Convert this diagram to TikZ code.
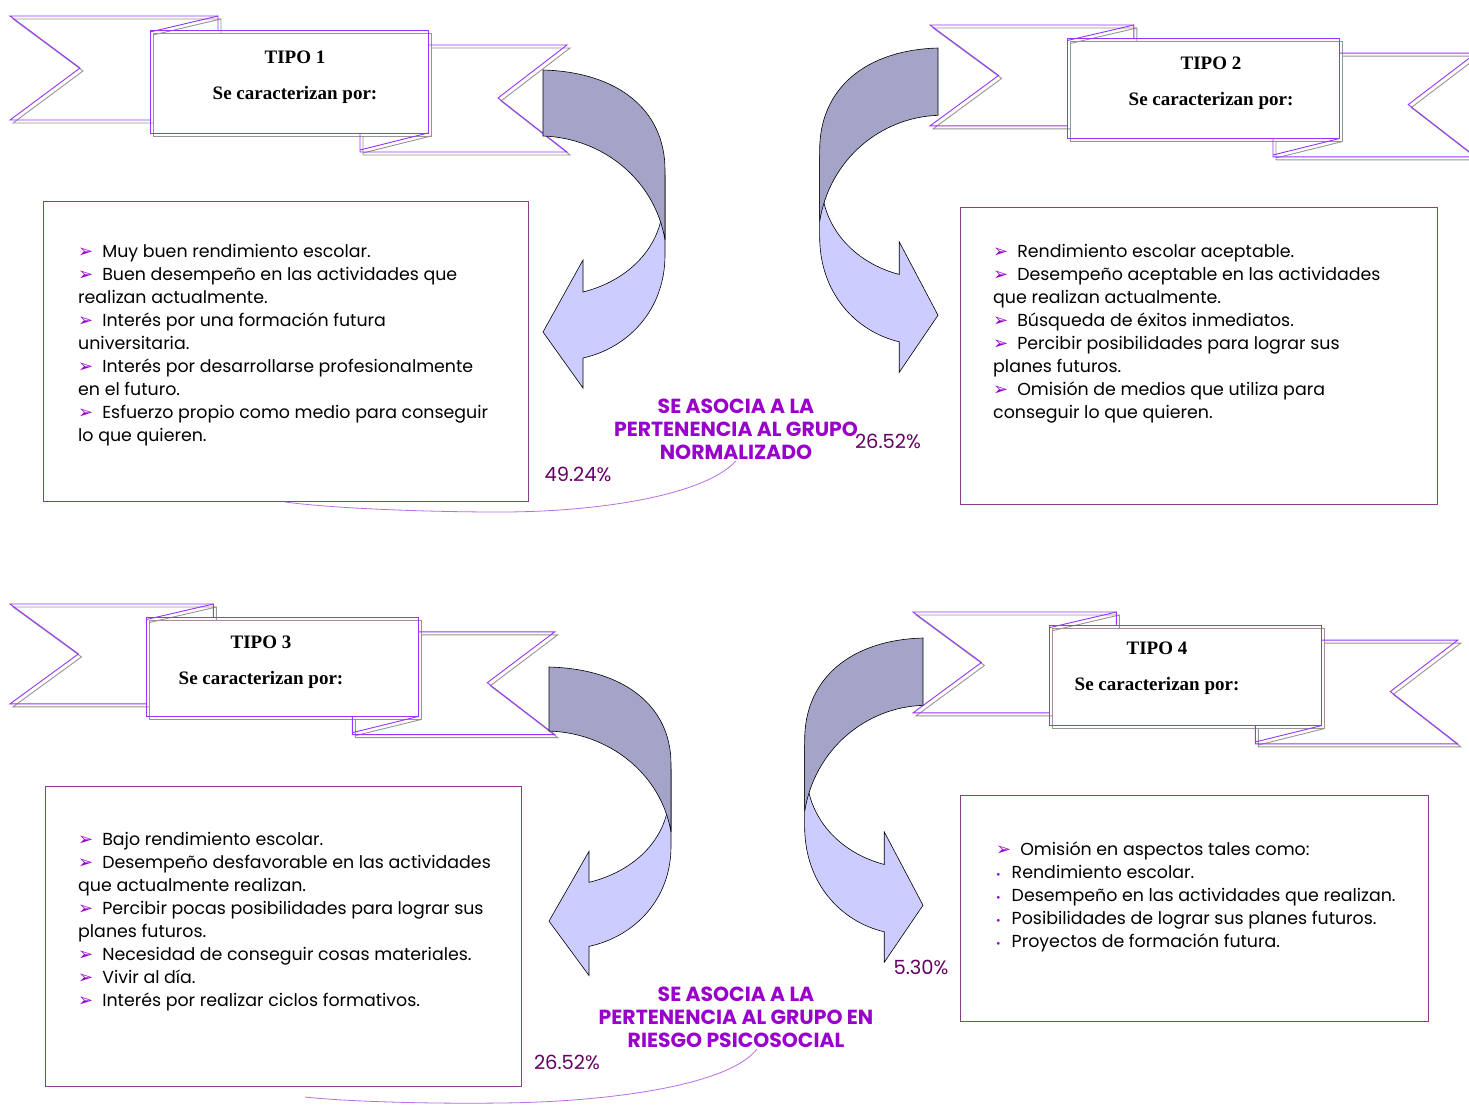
\documentclass[tikz,border=0pt]{standalone}
\usepackage{fontspec}
\setmainfont{Poppins}
\newfontfamily\titulofont{Liberation Serif}
\newfontfamily\simbolofont{DejaVu Sans}
\usetikzlibrary{positioning}
\definecolor{cintamorada}{RGB}{153,51,255}
\definecolor{sombra}{RGB}{150,150,150}
\definecolor{bordecaja}{RGB}{140,60,140}
\definecolor{moradotexto}{RGB}{153,0,204}
\definecolor{pctmorado}{RGB}{102,0,102}
\definecolor{grisazul}{RGB}{164,164,200}
\definecolor{lila}{RGB}{204,204,255}
\definecolor{enlacemorado}{RGB}{185,110,225}
\newcommand{\flecha}{{\color{moradotexto}\simbolofont\fontsize{18}{18}\selectfont ➢}\hspace{9pt}}
\newcommand{\punto}{{\color{moradotexto}\fontsize{11}{11}\selectfont •}\hspace{11pt}}
\newcommand{\cinta}[4]{%
  \foreach \desp/\tono in {3/sombra,0/cintamorada}{%
    \begin{scope}[shift={(#1+\desp,#2+\desp)}, xscale=#3, yscale=#4, color=\tono, line width=0.9pt]
      \draw (140,104) -- (0,104) -- (70,52) -- (0,0) -- (208,0) -- (208,14);
      \draw (140,16) -- (208,0);
      \draw (140,14) rectangle (418,117);
      \draw (418,29) -- (557,29) -- (488,82) -- (557,136) -- (350,136) -- (350,117);
      \draw (350,134) -- (418,117);
    \end{scope}}}
\newcommand{\giro}[4]{%
  \begin{scope}[shift={(#1,#2)}, xscale=#3, yscale=#4]
    \draw[claro] (122,105) -- (122,185) .. controls (122,240) and (85,278) .. (40,288) -- (40,318) -- (0,262) -- (40,190) -- (40,222) .. controls (80,212) and (110,185) .. (118,150) -- cycle;
    \draw[oscuro] (0,0) .. controls (75,2) and (122,40) .. (122,100) -- (122,170) .. controls (112,110) and (60,68) .. (0,66) -- cycle;
  \end{scope}}

\begin{document}
\begin{tikzpicture}[x=1pt, y=-1pt,
    caja/.style={draw=bordecaja, line width=0.8pt, anchor=north west, inner sep=0pt},
    lista/.style={anchor=north west, align=left, inner sep=0pt, font=\fontsize{17.4}{23}\selectfont},
    titulo/.style={align=center, font=\titulofont\bfseries\fontsize{19}{36}\selectfont},
    etiqueta/.style={align=center, text=moradotexto, font=\bfseries\fontsize{20.4}{23}\selectfont},
    pct/.style={text=pctmorado, font=\fontsize{19.5}{20}\selectfont},
    claro/.style={fill=lila, draw=black, line width=0.6pt},
    oscuro/.style={fill=grisazul, draw=black, line width=0.6pt},
    enlace/.style={draw=enlacemorado, line width=0.8pt}]
    \fill[white] (0,0) rectangle (1469,1104);
    \useasboundingbox (0,0) rectangle (1469,1104);

    \cinta{10}{16}{1}{1}
    \cinta{930}{25}{0.98}{0.97}
    \cinta{10}{604}{0.978}{0.96}
    \cinta{913}{612}{0.978}{0.97}

    \node[titulo] (tipo1) at (295,77) {TIPO 1\\Se caracterizan por:};
    \node[titulo] (tipo2) at (1211,83) {TIPO 2\\Se caracterizan por:};
    \node[titulo] (tipo3) at (261,662) {TIPO 3\\Se caracterizan por:};
    \node[titulo] (tipo4) at (1157,668) {TIPO 4\\Se caracterizan por:};

    \node[caja, minimum width=485, minimum height=300] (caja1) at (43,201) {};
    \node[caja, minimum width=477, minimum height=297] (caja2) at (960,207) {};
    \node[caja, minimum width=476, minimum height=300] (caja3) at (45,786) {};
    \node[caja, minimum width=468, minimum height=226] (caja4) at (960,795) {};

    \node[lista] (lista1) at (78,244) {\flecha Muy buen rendimiento escolar.\\
        \flecha Buen desempeño en las actividades que\\realizan actualmente.\\
        \flecha Interés por una formación futura\\universitaria.\\
        \flecha Interés por desarrollarse profesionalmente\\en el futuro.\\
        \flecha Esfuerzo propio como medio para conseguir\\lo que quieren.};
    \node[lista] (lista2) at (993,244) {\flecha Rendimiento escolar aceptable.\\
        \flecha Desempeño aceptable en las actividades\\que realizan actualmente.\\
        \flecha Búsqueda de éxitos inmediatos.\\
        \flecha Percibir posibilidades para lograr sus\\planes futuros.\\
        \flecha Omisión de medios que utiliza para\\conseguir lo que quieren.};
    \node[lista] (lista3) at (78,832) {\flecha Bajo rendimiento escolar.\\
        \flecha Desempeño desfavorable en las actividades\\que actualmente realizan.\\
        \flecha Percibir pocas posibilidades para lograr sus\\planes futuros.\\
        \flecha Necesidad de conseguir cosas materiales.\\
        \flecha Vivir al día.\\
        \flecha Interés por realizar ciclos formativos.};
    \node[lista] (lista4) at (996,842) {\flecha Omisión en aspectos tales como:\\
        \punto Rendimiento escolar.\\
        \punto Desempeño en las actividades que realizan.\\
        \punto Posibilidades de lograr sus planes futuros.\\
        \punto Proyectos de formación futura.};

    \giro{543}{70}{1}{1}
    \giro{938}{48}{-0.97}{1.02}
    \giro{549}{667}{1}{0.97}
    \giro{923}{638}{-0.97}{1.02}

    \node[etiqueta] (normal) at (736,429) {SE ASOCIA A LA\\PERTENENCIA AL GRUPO\\NORMALIZADO};
    \node[etiqueta] (riesgo) at (736,1017) {SE ASOCIA A LA\\PERTENENCIA AL GRUPO EN\\RIESGO PSICOSOCIAL};

    \node[pct] (p1) at (578,474) {49.24\%};
    \node[pct] (p2) at (888,441) {26.52\%};
    \node[pct] (p3) at (567,1062) {26.52\%};
    \node[pct] (p4) at (921,967) {5.30\%};

    \coordinate (fin1) at (285,502);
    \coordinate (fin2) at (305,1097);
    \draw[enlace] ([yshift=2pt]normal.south) .. controls (705,495) and (600,512) .. (500,512) .. controls (420,512) and (330,508) .. (fin1);
    \draw[enlace] ([xshift=21pt,yshift=2pt]riesgo.south) .. controls (730,1085) and (610,1102) .. (500,1103) .. controls (420,1104) and (340,1101) .. (fin2);
\end{tikzpicture}
\end{document}
